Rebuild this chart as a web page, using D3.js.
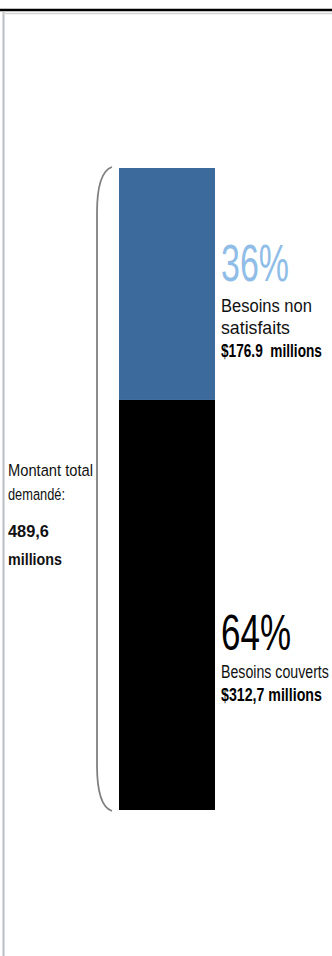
<!DOCTYPE html>
<html>
<head>
<meta charset="utf-8">
<script src="https://cdn.jsdelivr.net/npm/d3@7"></script>
<style>
  body { margin: 0; background: #fff; }
  svg { display: block; }
  text { font-family: "Liberation Sans Narrow", "Arial Narrow", "Liberation Sans", sans-serif; }
</style>
</head>
<body>
<div id="chart"></div>
<script>
// data
var segments = ["Besoins couverts", "Besoins non satisfaits"];
var amounts = [312.7, 176.9]; // millions
var percents = ["64%", "36%"];
var amountLabels = ["$312,7 millions", "$176.9  millions"];
var totalLines = ["Montant total", "demandé:", "489,6", "millions"];

var width = 332, height = 956,
    barLeft = 119, barWidth = 96,
    barTop = 168, barBottom = 810;

var total = d3.sum(amounts);

var y = d3.scaleLinear().domain([0, total]).range([barBottom, barTop]);
var color = d3.scaleOrdinal().domain(segments).range(["#000000", "#3d6a9c"]);

var stacked = [];
var acc = 0;
amounts.forEach(function (v, i) {
    stacked.push({name: segments[i], y0: acc, y1: acc + v, pct: percents[i], lab: amountLabels[i]});
    acc += v;
});

var svg = d3.select("#chart").append("svg")
    .attr("width", width)
    .attr("height", height);

// narrow font look: squeeze each text horizontally to the width it has in the picture
function label(g, str, x, yy, size, len, opts) {
    opts = opts || {};
    var t = g.append("text")
        .attr("y", yy)
        .attr("font-size", size)
        .attr("font-weight", opts.bold ? "bold" : "normal")
        .attr("fill", opts.fill || "#111")
        .attr("xml:space", "preserve")
        .text(str);
    var natural = t.node().getComputedTextLength();
    t.attr("transform", "translate(" + x + ",0) scale(" + (len / natural) + ",1)");
    return t;
}

// frame
svg.append("line").attr("x1", 0).attr("x2", width).attr("y1", 10).attr("y2", 10)
    .attr("stroke", "#000").attr("stroke-width", 2.5);
svg.append("line").attr("x1", 3.5).attr("x2", 3.5).attr("y1", 12).attr("y2", height)
    .attr("stroke", "#b8bcc4").attr("stroke-width", 2);
svg.append("line").attr("x1", 3).attr("x2", width).attr("y1", 13.5).attr("y2", 13.5)
    .attr("stroke", "#d4d4d4").attr("stroke-width", 1.5);

// bars
svg.selectAll("rect.seg")
    .data(stacked)
    .enter().append("rect")
    .attr("class", "seg")
    .attr("x", barLeft)
    .attr("width", barWidth)
    .attr("y", function (d) { return y(d.y1); })
    .attr("height", function (d) { return y(d.y0) - y(d.y1); })
    .attr("fill", function (d) { return color(d.name); });

// bracket
var bx = 97, bTop = y(total), bBot = y(0);
var bracket = d3.path();
bracket.moveTo(bx + 15, bTop - 1);
bracket.quadraticCurveTo(bx, bTop + 4, bx, bTop + 45);
bracket.lineTo(bx, bBot - 45);
bracket.quadraticCurveTo(bx, bBot - 4, bx + 15, bBot + 1);
svg.append("path")
    .attr("d", bracket.toString())
    .attr("fill", "none")
    .attr("stroke", "#808080")
    .attr("stroke-width", 1.8);

// segment labels
var labelX = 221;
var seg0 = stacked[0], seg1 = stacked[1];

label(svg, seg1.pct, labelX, 281, 52, 68, {fill: "#8fbde8"});
label(svg, "Besoins non", labelX, 312, 18, 91);
label(svg, "satisfaits", labelX, 334, 18, 69);
label(svg, seg1.lab, labelX, 357, 18, 101, {bold: true, fill: "#000"});

label(svg, seg0.pct, labelX, 650, 50, 70, {fill: "#000"});
label(svg, seg0.name, labelX, 678, 18, 108);
label(svg, seg0.lab, labelX, 701, 18, 101, {bold: true, fill: "#000"});

// total label
var lineY = [476, 500, 537, 565];
var lineW = [85, 57, 41, 54];
totalLines.forEach(function (t, i) {
    label(svg, t, 8, lineY[i], 17, lineW[i], {bold: i >= 2});
});
</script>
</body>
</html>
